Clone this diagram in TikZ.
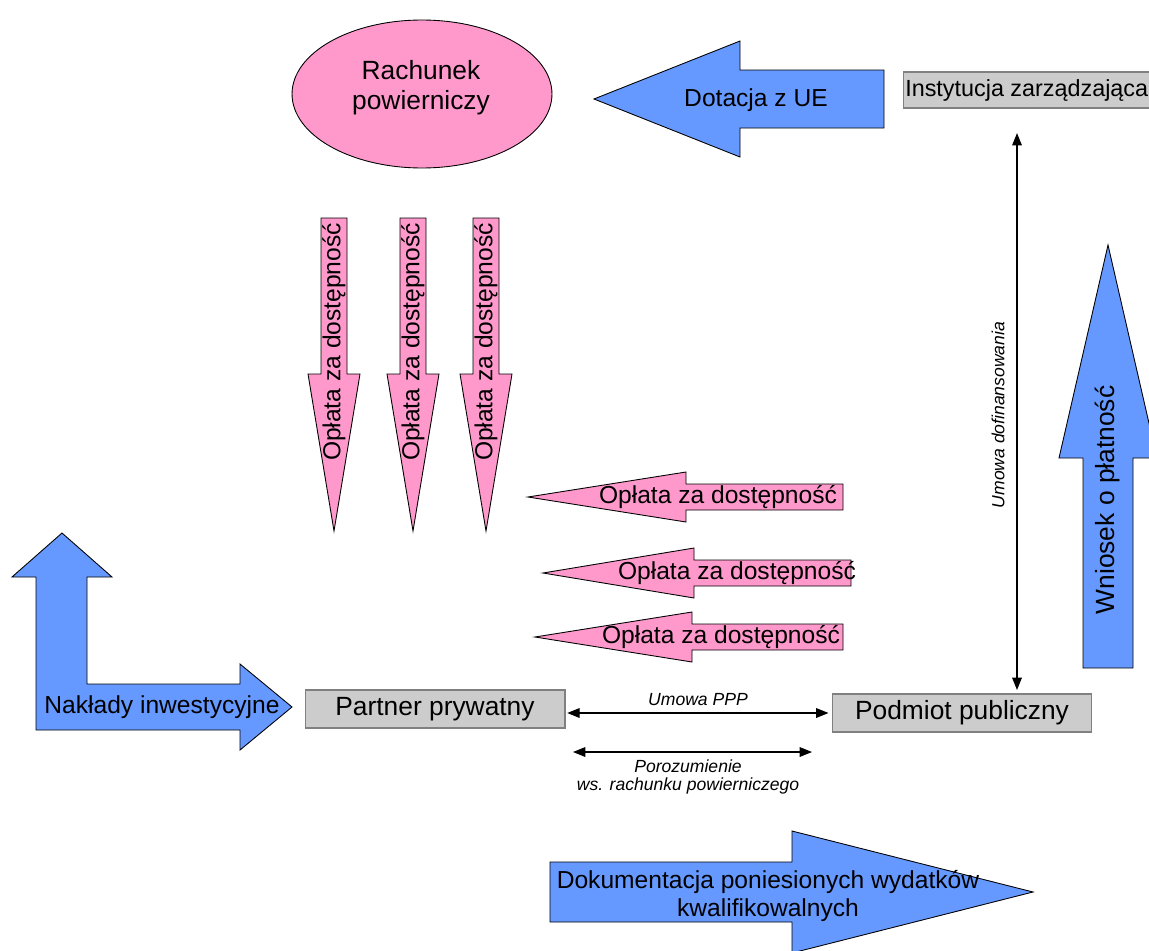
\documentclass[tikz,border=0pt]{standalone}
\usepackage{fontspec}
\setmainfont{Liberation Sans}
\usepackage{tikz}
\usetikzlibrary{shapes.geometric, arrows.meta, positioning, calc}

\definecolor{flowblue}{RGB}{102,153,255}
\definecolor{flowpink}{RGB}{255,153,204}
\definecolor{boxgray}{RGB}{204,204,204}

\begin{document}
\begin{tikzpicture}[
        x=0.02cm, y=-0.02cm,
        bluearrow/.style={
            fill=flowblue,
            draw=black,
            line width=0.5pt
        },
        pinkarrow/.style={
            fill=flowpink,
            draw=black,
            line width=0.5pt
        },
        box/.style={
            rectangle,
            fill=boxgray,
            draw=black!50,
            line width=0.6pt,
            minimum width=5.2cm,
            minimum height=0.76cm,
            font=\fontsize{15}{17}\selectfont
        },
        arrowtext/.style={
            font=\fontsize{14}{15.5}\selectfont,
            align=center,
            inner sep=0pt
        },
        note/.style={
            font=\fontsize{10}{10.5}\selectfont\itshape,
            align=center,
            inner sep=0pt
        },
        link/.style={
            {Triangle[length=7pt,width=5.5pt]}-{Triangle[length=7pt,width=5.5pt]},
            line width=0.6pt
        }
    ]
    \clip (0,0) rectangle (1149,950);

    % Trust account
    \node[ellipse, fill=flowpink, draw=black, line width=0.5pt,
          minimum width=5.2cm, minimum height=2.96cm] (rachunek) at (422,94) {};
    \node[align=center, font=\fontsize{15}{17}\selectfont] (rachunektext) at (421,88)
          {Rachunek\\powierniczy};

    % EU grant
    \filldraw[bluearrow] (884,70) -- (740,70) -- (740,41) -- (594,99)
        -- (740,157) -- (740,128) -- (884,128) -- cycle;
    \node[arrowtext] (dotacja) at (756,100) {Dotacja z UE};

    % Institutions
    \node[box, anchor=west, minimum width=0cm, minimum height=0.72cm,
          inner xsep=1pt, font=\fontsize{13.3}{15}\selectfont] (instytucja) at (903,90)
          {Instytucja zarządzająca\hspace{6pt}};
    \node[box] (partner) at (435,709) {Partner prywatny};
    \node[box, minimum width=5.18cm] (podmiot) at (962,713) {Podmiot publiczny};

    % Availability payments (down)
    \foreach \cx/\nm in {334/a, 413/b, 486/c} {
        \filldraw[pinkarrow] (\cx-13,218) -- (\cx+13,218) -- (\cx+13,374)
            -- (\cx+26,374) -- (\cx,531) -- (\cx-26,374) -- (\cx-13,374) -- cycle;
        \node[arrowtext, rotate=90] (oplata-\nm) at (\cx,342) {Opłata za dostępność};
    }

    % Availability payments (left)
    \foreach \tip/\base/\tail/\cy/\tx/\nm in {528/686/843/497/718/d, 543/694/851/573/737/e, 535/692/843/637/721/f} {
        \filldraw[pinkarrow] (\tail,\cy-13) -- (\base,\cy-13) -- (\base,\cy-25)
            -- (\tip,\cy) -- (\base,\cy+25) -- (\base,\cy+13) -- (\tail,\cy+13) -- cycle;
        \node[arrowtext] (oplata-\nm) at (\tx,\cy) {Opłata za dostępność};
    }

    % Payment claim
    \filldraw[bluearrow] (1083,668) -- (1083,458) -- (1059,458) -- (1108,245)
        -- (1157,458) -- (1133,458) -- (1133,668) -- cycle;
    \node[arrowtext, font=\fontsize{15}{17}\selectfont, rotate=90] (wniosek) at (1108,500) {Wniosek o płatność};

    % Investment outlays
    \filldraw[bluearrow] (36,730) -- (36,577) -- (12,577) -- (62,533) -- (112,577)
        -- (87,577) -- (87,684) -- (240,684) -- (240,664) -- (292,707)
        -- (240,750) -- (240,730) -- cycle;
    \node[arrowtext] (naklady) at (162,707) {Nakłady inwestycyjne};

    % Documentation of expenses
    \filldraw[bluearrow] (550,862) -- (792,862) -- (792,831) -- (1033,892)
        -- (792,953) -- (792,922) -- (550,922) -- cycle;
    \node[arrowtext] (dokumentacja) at (768,896) {Dokumentacja poniesionych wydatków\\kwalifikowalnych};

    % Agreements
    \coordinate (dofx) at (1017,0);
    \draw[link, shorten <=14pt, shorten >=2pt] (instytucja.south -| dofx) -- (podmiot.north -| dofx);
    \node[note, rotate=90] (dofinansowanie) at (998,415) {Umowa dofinansowania};

    \draw[link, shorten <=1pt, shorten >=2pt] (partner.east |- podmiot.west) -- (podmiot.west);
    \node[note] (umowappp) at (698,700) {Umowa PPP};

    \coordinate (porL) at (573,752);
    \coordinate (porR) at (812,752);
    \draw[link] (porL) -- (porR);
    \node[note] (porozumienie) at (688,777) {Porozumienie\\ws. rachunku powierniczego};

\end{tikzpicture}
\end{document}
